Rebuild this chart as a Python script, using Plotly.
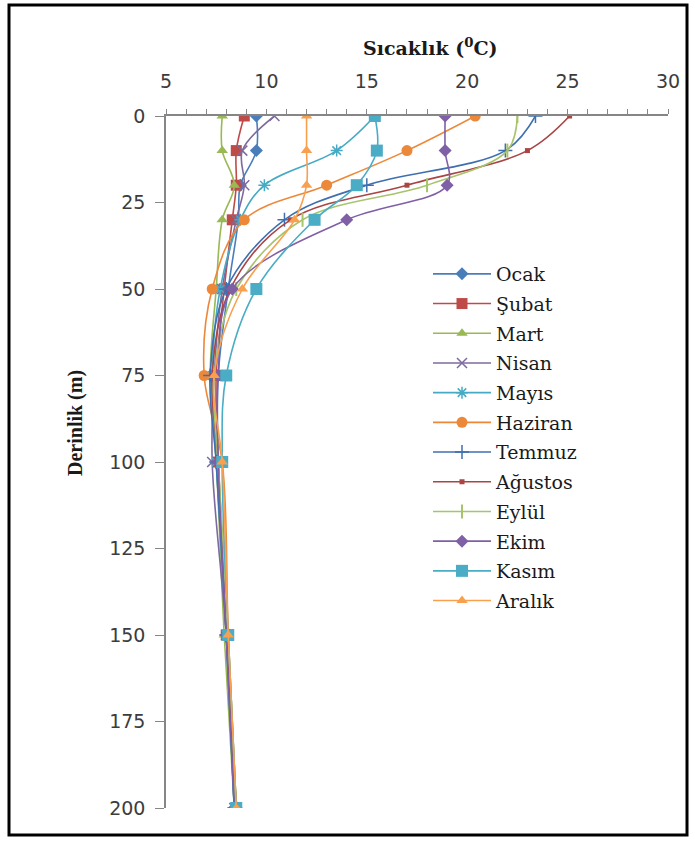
import plotly.graph_objects as go

# Sampling depths (m) and monthly temperature profiles (°C)
depths = [0, 10, 20, 30, 50, 75, 100, 150, 200]

ocak = [9.5, 9.5, 8.7, 8.6, 8.1, 7.6, 7.6, 8.0, 8.5]
subat = [8.9, 8.5, 8.5, 8.3, 7.9, 7.5, 7.6, 8.0, 8.5]
mart = [7.8, 7.8, 8.4, 7.8, 7.5, 7.2, 7.5, 7.9, 8.4]
nisan = [10.4, 8.8, 8.9, 8.5, 7.8, 7.4, 7.3, 8.0, 8.4]
mayis = [15.4, 13.5, 9.9, 8.7, 7.7, 7.3, 7.5, 8.0, 8.4]
haziran = [20.4, 17.0, 13.0, 8.9, 7.3, 6.9, 7.8, 8.1, 8.5]
temmuz = [23.4, 21.9, 15.0, 10.9, 8.0, 7.2, 7.5, 8.0, 8.4]
agustos = [25.1, 23.0, 17.0, 11.2, 8.2, 7.3, 7.6, 8.0, 8.5]
eylul = [22.5, 22.0, 18.0, 11.8, 8.5, 7.4, 7.6, 8.1, 8.5]
ekim = [18.9, 18.9, 19.0, 14.0, 8.3, 7.6, 7.6, 8.0, 8.4]
kasim = [15.4, 15.5, 14.5, 12.4, 9.5, 8.0, 7.8, 8.1, 8.5]
aralik = [12.0, 12.0, 12.0, 11.4, 8.8, 7.4, 7.8, 8.1, 8.5]

month_names = ["Ocak", "Şubat", "Mart", "Nisan", "Mayıs", "Haziran",
               "Temmuz", "Ağustos", "Eylül", "Ekim", "Kasım", "Aralık"]
profiles = [ocak, subat, mart, nisan, mayis, haziran,
            temmuz, agustos, eylul, ekim, kasim, aralik]

x_ticks = [5, 10, 15, 20, 25, 30]
y_ticks = [0, 25, 50, 75, 100, 125, 150, 175, 200]

# (line colour, marker symbol, marker size, open-symbol line width)
styles = [
    ("#4A7EBB", "diamond", 10, 0),
    ("#BE4B48", "square", 11, 0),
    ("#98B954", "triangle-up", 10, 0),
    ("#7D6A9E", "x-thin", 10, 1.5),
    ("#46AAC5", "asterisk", 10, 1.5),
    ("#EC8839", "circle", 11, 0),
    ("#3F6FAF", "cross-thin", 10, 1.5),
    ("#A94545", "square", 5, 0),
    ("#A7C46C", "line-ns", 10, 2),
    ("#7F5FA6", "diamond", 10, 0),
    ("#4BACC6", "square", 12, 0),
    ("#F9A04F", "triangle-up", 10, 0),
]

W, H = 695, 841
ML, MR, MT, MB = 166, 27, 116, 33
PW, PH = W - ML - MR, H - MT - MB


def px_to_paper_x(px):
    return (px - ML) / PW


def px_to_paper_y(py):
    return (H - MB - py) / PH


fig = go.Figure()
for name, temps, (color, symbol, size, lw) in zip(month_names, profiles, styles):
    marker = dict(symbol=symbol, size=size, color=color)
    if lw:
        marker["line"] = dict(width=lw, color=color)
    fig.add_trace(go.Scatter(
        x=temps, y=depths, name=name, legendgroup=name,
        mode="lines+markers",
        line=dict(color=color, width=1.6, shape="spline", smoothing=1.0),
        marker=marker,
    ))

axis_color = "#868686"
tick_font = dict(family="DejaVu Sans", size=19, color="#3c3c3c")

fig.update_layout(
    width=W, height=H,
    margin=dict(l=ML, r=MR, t=MT, b=MB, pad=0),
    paper_bgcolor="white", plot_bgcolor="white",
    showlegend=True,
    legend=dict(
        x=px_to_paper_x(428), y=px_to_paper_y(255),
        xanchor="left", yanchor="top",
        font=dict(family="DejaVu Serif", size=19, color="#1a1a1a"),
        bgcolor="rgba(255,255,255,0)",
        tracegroupgap=2,
        itemwidth=58,
    ),
    xaxis=dict(
        side="top", range=[5, 30], tickvals=x_ticks,
        ticks="outside", ticklen=5, tickcolor=axis_color, tickwidth=1,
        minor=dict(dtick=1, ticks="outside", ticklen=5, tickcolor=axis_color),
        showline=True, linecolor=axis_color, linewidth=1.5,
        showgrid=False, zeroline=False,
        tickfont=tick_font, ticklabelstandoff=14,
    ),
    yaxis=dict(
        range=[200, 0], tickvals=y_ticks,
        ticks="outside", ticklen=9, tickcolor=axis_color, tickwidth=1,
        showline=True, linecolor=axis_color, linewidth=1.5,
        showgrid=False, zeroline=False,
        tickfont=tick_font, ticklabelstandoff=6,
    ),
    annotations=[
        dict(text="Sıcaklık (<sup>0</sup>C)", xref="paper", yref="paper",
             x=px_to_paper_x(430), y=px_to_paper_y(47),
             xanchor="center", yanchor="middle", showarrow=False,
             font=dict(family="DejaVu Serif", size=19, color="#1a1a1a", weight="bold")),
        dict(text="Derinlik (m)", xref="paper", yref="paper",
             x=px_to_paper_x(75), y=px_to_paper_y(423),
             xanchor="center", yanchor="middle", showarrow=False, textangle=-90,
             font=dict(family="Liberation Serif", size=20, color="#1a1a1a", weight="bold")),
    ],
    shapes=[
        dict(type="rect", xref="paper", yref="paper",
             x0=px_to_paper_x(9), x1=px_to_paper_x(687),
             y0=px_to_paper_y(835), y1=px_to_paper_y(5),
             line=dict(color="black", width=3), fillcolor="rgba(0,0,0,0)"),
    ],
)

fig.write_html("out.html")
